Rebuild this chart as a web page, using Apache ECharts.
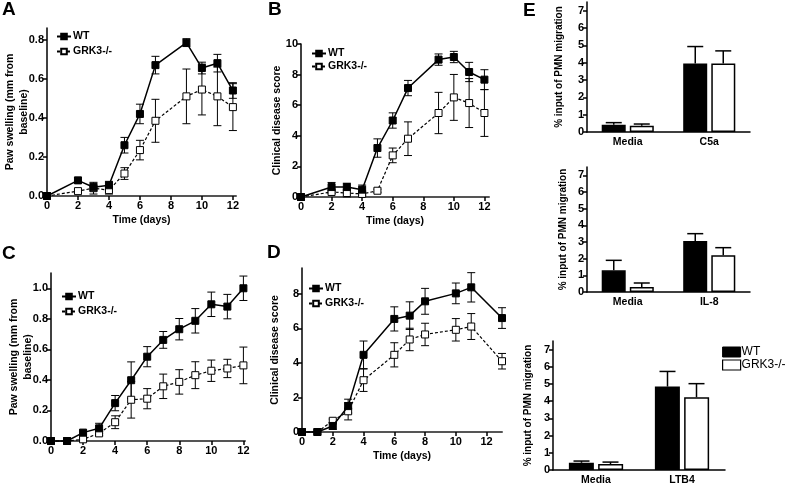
<!DOCTYPE html>
<html><head><meta charset="utf-8">
<script src="https://cdn.jsdelivr.net/npm/echarts@6/dist/echarts.min.js"></script>
<style>html,body{margin:0;padding:0;background:#fff}#c{width:787px;height:486px}</style>
</head><body><div id="c"></div>
<script>
// ---- Panel A: paw swelling ----
const daysA = [0,2,3,4,5,6,7,9,10,11,12];
const wtA = [0,0.08,0.045,0.055,0.26,0.42,0.67,0.785,0.655,0.68,0.54];
const wtAErr = [0,0.015,0.02,0.02,0.04,0.05,0.045,0.02,0.03,0.045,0.04];
const grkA = [0,0.025,0.04,0.03,0.115,0.235,0.385,0.51,0.545,0.51,0.455];
const grkAErr = [0,0.01,0.03,0.02,0.03,0.05,0.11,0.14,0.13,0.15,0.12];
// ---- Panel B: clinical score ----
const daysB = [0,2,3,4,5,6,7,9,10,11,12];
const wtB = [0,0.65,0.65,0.48,3.2,5.0,7.12,8.98,9.15,8.17,7.67];
const wtBErr = [0,0.3,0.25,0.3,0.6,0.5,0.5,0.37,0.37,0.63,0.65];
const grkB = [0,0.33,0.26,0.2,0.41,2.72,3.81,5.49,6.51,6.14,5.49];
const grkBErr = [0,0.1,0.25,0.1,0.1,0.48,1.1,1.35,1.5,1.6,1.53];
// ---- Panel C: paw swelling ----
const daysC = [0,1,2,3,4,5,6,7,8,9,10,11,12];
const wtC = [0,0,0.055,0.083,0.248,0.398,0.552,0.662,0.732,0.787,0.895,0.88,1.0];
const wtCErr = [0,0,0.01,0.033,0.05,0.12,0.066,0.055,0.07,0.08,0.08,0.08,0.08];
const grkC = [0,0,0.011,0.05,0.123,0.27,0.277,0.358,0.387,0.431,0.46,0.475,0.495];
const grkCErr = [0,0,0.01,0.015,0.042,0.12,0.066,0.08,0.08,0.088,0.07,0.06,0.12];
// ---- Panel D: clinical score ----
const daysD = [0,1,2,3,4,6,7,8,10,11,13];
const wtD = [0,0,0.35,1.5,4.47,6.55,6.74,7.57,8.03,8.38,6.6];
const wtDErr = [0,0,0.2,0.4,0.8,0.7,0.8,0.75,0.6,0.85,0.6];
const grkD = [0,0,0.65,1.2,3.0,4.47,5.36,5.65,5.92,6.11,4.1];
const grkDErr = [0,0,0.1,0.5,0.65,0.7,0.65,0.65,0.65,0.75,0.45];
// ---- Panel E: PMN migration ----
const catE1 = ['Media','C5a'];
const wtE1 = [0.42,3.95], wtE1Err = [0.12,0.98];
const grkE1 = [0.36,3.95], grkE1Err = [0.1,0.73];
const catE2 = ['Media','IL-8'];
const wtE2 = [1.3,3.06], wtE2Err = [0.6,0.44];
const grkE2 = [0.3,2.2], grkE2Err = [0.24,0.46];
const catE3 = ['Media','LTB4'];
const wtE3 = [0.42,4.85], wtE3Err = [0.1,0.88];
const grkE3 = [0.35,4.23], grkE3Err = [0.11,0.79];
// tick labels
const ticksX12 = [0,2,4,6,8,10,12];
const ticksSwell08 = [0,0.2,0.4,0.6,0.8];
const ticksSwell10 = [0,0.2,0.4,0.6,0.8,1.0];
const ticksScore10 = [0,2,4,6,8,10];
const ticksScore8 = [0,2,4,6,8];
const ticksE = [0,1,2,3,4,5,6,7];

const FF = '"Liberation Sans", Arial, sans-serif';
const chart = echarts.init(document.getElementById('c'));

const grids = [
  {left:47, top:28, width:189, height:168},
  {left:301, top:44, width:188, height:153},
  {left:51, top:273, width:194, height:168},
  {left:302, top:268, width:200, height:164},
  {left:587, top:2, width:163, height:130},
  {left:587, top:167, width:163, height:125},
  {left:553, top:341, width:172, height:130}
];

function xVal(gi, max, ticks, name) {
  return {gridIndex:gi, type:'value', min:0, max:max,
    axisLine:{show:true, onZero:false, lineStyle:{color:'#555', width:2}},
    axisTick:{show:true, length:4, customValues:ticks, lineStyle:{color:'#000', width:1.5}},
    axisLabel:{customValues:ticks, color:'#000', fontWeight:'bold', fontSize:11, fontFamily:FF, margin:4},
    splitLine:{show:false},
    name:name || '', nameLocation:'middle', nameGap:19, nameMoveOverlap:false,
    nameTextStyle:{color:'#000', fontWeight:'bold', fontSize:10.5, fontFamily:FF}};
}
function yVal(gi, max, ticks, name, gap, fmt) {
  return {gridIndex:gi, type:'value', min:0, max:max,
    axisLine:{show:true, onZero:false, lineStyle:{color:'#000', width:1.5}},
    axisTick:{show:true, length:4, customValues:ticks, lineStyle:{color:'#000', width:1.5}},
    axisLabel:{customValues:ticks, color:'#000', fontWeight:'bold', fontSize:11, fontFamily:FF, margin:3,
      formatter: fmt || (v => String(v))},
    splitLine:{show:false},
    name:name, nameLocation:'middle', nameGap:gap, nameRotate:90, nameMoveOverlap:false,
    nameTextStyle:{color:'#000', fontWeight:'bold', fontSize:10.5, fontFamily:FF, lineHeight:14, align:'center'}};
}
function xCat(gi, cats) {
  return {gridIndex:gi, type:'category', data:cats, boundaryGap:true,
    axisLine:{show:true, lineStyle:{color:'#000', width:1.5}},
    axisTick:{show:false},
    axisLabel:{color:'#000', fontWeight:'bold', fontSize:10.5, fontFamily:FF, margin:5},
    splitLine:{show:false}};
}
function yE(gi, gap) {
  const a = yVal(gi, 7.5, ticksE, '% input of PMN migration', gap);
  a.nameTextStyle.fontSize = 10;
  return a;
}
const f1 = v => v.toFixed(1);

function lineWT(gi, xs, ys) {
  return {type:'line', name:'WT', xAxisIndex:gi, yAxisIndex:gi, data:xs.map((x,i)=>[x, ys[i]]),
    symbol:'rect', symbolSize:7, showAllSymbol:true, clip:false, z:4,
    lineStyle:{color:'#000', width:1.5}, itemStyle:{color:'#000', borderColor:'#000', borderWidth:1}};
}
function lineGRK(gi, xs, ys) {
  return {type:'line', name:'GRK3-/-', xAxisIndex:gi, yAxisIndex:gi, data:xs.map((x,i)=>[x, ys[i]]),
    symbol:'rect', symbolSize:7, showAllSymbol:true, clip:false, z:3,
    lineStyle:{color:'#000', width:1.2, type:[3,2]}, itemStyle:{color:'#fff', borderColor:'#000', borderWidth:1}};
}
function errLine(gi, xs, ys, es) {
  return {type:'custom', xAxisIndex:gi, yAxisIndex:gi, silent:true, z:2, clip:false,
    data: xs.map((x,i)=>[x, ys[i]-es[i], ys[i]+es[i]]),
    renderItem:(p, api) => {
      if (api.value(2) - api.value(1) <= 0) return null;
      const lo = api.coord([api.value(0), api.value(1)]);
      const hi = api.coord([api.value(0), api.value(2)]);
      const h = 4, st = {stroke:'#000', lineWidth:1};
      return {type:'group', children:[
        {type:'line', shape:{x1:lo[0], y1:lo[1], x2:hi[0], y2:hi[1]}, style:st},
        {type:'line', shape:{x1:lo[0]-h, y1:lo[1], x2:lo[0]+h, y2:lo[1]}, style:st},
        {type:'line', shape:{x1:hi[0]-h, y1:hi[1], x2:hi[0]+h, y2:hi[1]}, style:st}
      ]};
    }};
}
function barS(gi, name, vals, w, fill) {
  return {type:'bar', name:name, xAxisIndex:gi, yAxisIndex:gi, data:vals, barWidth:w, barGap:'17%',
    itemStyle:{color:fill, borderColor:'#000', borderWidth:1.5}, z:3};
}
function errBar(gi, vals, errs, offset) {
  return {type:'custom', xAxisIndex:gi, yAxisIndex:gi, silent:true, z:1,
    data: vals.map((v,i)=>[i, v, v+errs[i]]),
    renderItem:(p, api) => {
      const b = api.coord([api.value(0), api.value(1)]);
      const t = api.coord([api.value(0), api.value(2)]);
      const x = b[0] + offset, st = {stroke:'#000', lineWidth:1.5};
      return {type:'group', children:[
        {type:'line', shape:{x1:x, y1:b[1], x2:x, y2:t[1]}, style:st},
        {type:'line', shape:{x1:x-8, y1:t[1], x2:x+8, y2:t[1]}, style:st}
      ]};
    }};
}
function legLine(left, top, gap) {
  return {left:left, top:top, orient:'vertical', padding:0, itemGap:gap, itemWidth:14, itemHeight:7,
    selectedMode:false, data:['WT','GRK3-/-'],
    textStyle:{color:'#000', fontWeight:'bold', fontSize:10.5, fontFamily:FF, lineHeight:11, padding:[0,0,0,-3]}};
}
const letter = (t, x, y) => ({type:'text', left:x, top:y, style:{text:t, font:'bold 19px ' + FF, fill:'#000'}});

chart.setOption({
  animation:false,
  backgroundColor:'#fff',
  grid:grids,
  xAxis:[
    xVal(0, 12.2, ticksX12, 'Time (days)'),
    xVal(1, 12.3, ticksX12, 'Time (days)'),
    xVal(2, 12.1, ticksX12, ''),
    xVal(3, 13, ticksX12, 'Time (days)'),
    xCat(4, catE1), xCat(5, catE2), xCat(6, catE3)
  ],
  yAxis:[
    yVal(0, 0.86, ticksSwell08, 'Paw swelling (mm from\nbaseline)', 16, f1),
    yVal(1, 10, ticksScore10, 'Clinical disease score', 17),
    yVal(2, 1.1, ticksSwell10, 'Paw swelling (mm from\nbaseline)', 16, f1),
    yVal(3, 9.5, ticksScore8, 'Clinical disease score', 20),
    yE(4, 21), yE(5, 17), yE(6, 18)
  ],
  legend:[
    legLine(56, 31, 4),
    legLine(311, 48, 2),
    legLine(61, 291, 4),
    legLine(308, 283, 4),
    {left:722, top:346, orient:'vertical', padding:0, itemGap:1, itemWidth:18, itemHeight:10, selectedMode:false,
     data:[
      {name:'WT', icon:'rect', itemStyle:{color:'#000', borderColor:'#000', borderWidth:1}},
      {name:'GRK3-/-', icon:'rect', itemStyle:{color:'#fff', borderColor:'#000', borderWidth:1.2}}
     ],
     textStyle:{color:'#000', fontSize:12, fontFamily:FF, lineHeight:11, padding:[0,0,0,-4]}}
  ],
  graphic:[
    letter('A', 2, 0), letter('B', 268, 0), letter('C', 2, 244), letter('D', 267, 243), letter('E', 523, 1)
  ],
  series:[
    lineWT(0, daysA, wtA), lineGRK(0, daysA, grkA), errLine(0, daysA, wtA, wtAErr), errLine(0, daysA, grkA, grkAErr),
    lineWT(1, daysB, wtB), lineGRK(1, daysB, grkB), errLine(1, daysB, wtB, wtBErr), errLine(1, daysB, grkB, grkBErr),
    lineWT(2, daysC, wtC), lineGRK(2, daysC, grkC), errLine(2, daysC, wtC, wtCErr), errLine(2, daysC, grkC, grkCErr),
    lineWT(3, daysD, wtD), lineGRK(3, daysD, grkD), errLine(3, daysD, wtD, wtDErr), errLine(3, daysD, grkD, grkDErr),
    barS(4, 'WT', wtE1, 24, '#000'), barS(4, 'GRK3-/-', grkE1, 24, '#fff'),
    errBar(4, wtE1, wtE1Err, -14), errBar(4, grkE1, grkE1Err, 14),
    barS(5, 'WT', wtE2, 24, '#000'), barS(5, 'GRK3-/-', grkE2, 24, '#fff'),
    errBar(5, wtE2, wtE2Err, -14), errBar(5, grkE2, grkE2Err, 14),
    barS(6, 'WT', wtE3, 25, '#000'), barS(6, 'GRK3-/-', grkE3, 25, '#fff'),
    errBar(6, wtE3, wtE3Err, -14.5), errBar(6, grkE3, grkE3Err, 14.5)
  ]
});
</script>
</body></html>
